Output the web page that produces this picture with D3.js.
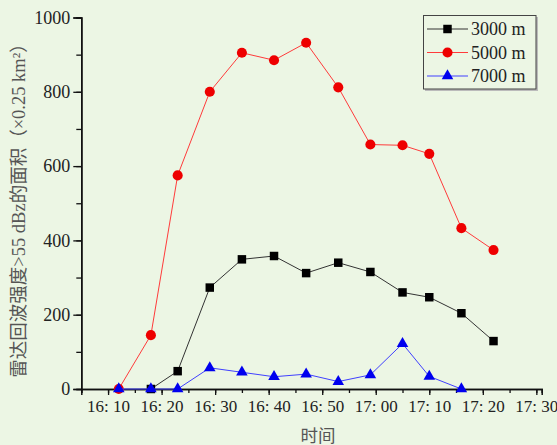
<!DOCTYPE html>
<html>
<head>
<meta charset="utf-8">
<script src="https://cdn.jsdelivr.net/npm/d3@7"></script>
<style>
  html, body { margin: 0; padding: 0; background: #ECF6E4; }
  svg { display: block; }
  text { font-family: "Liberation Serif", "Noto Sans CJK SC", serif; }
</style>
</head>
<body>
<svg id="chart" width="557" height="445"></svg>
<script>
// ---- data ----
const times = ["16:12","16:18","16:23","16:29","16:35","16:41","16:47","16:53","16:59","17:05","17:10","17:16","17:22"];
const s3000 = [null, 0, 48, 273, 349, 358, 312, 340, 315, 260, 247, 204, 129];
const s5000 = [0, 145, 575, 800, 905, 885, 932, 812, 658, 656, 633, 433, 374];
const s7000 = [0, 0, 0, 57, 45, 33, 40, 20, 38, 122, 34, 0, null];
const seriesNames = ["3000 m", "5000 m", "7000 m"];
const xTickLabels = ["16:10","16:20","16:30","16:40","16:50","17:00","17:10","17:20","17:30"];
const yTicks = [0, 200, 400, 600, 800, 1000];
const yLabel = "雷达回波强度>55 dBz的面积（×0.25 km²）";
const xLabel = "时间";

const toMin = t => { const [h, m] = t.split(":").map(Number); return (h - 16) * 60 + m; };
const fmt = m => { const h = 16 + Math.floor(m / 60), mm = m % 60; return h + ": " + String(mm).padStart(2, "0"); };

const svg = d3.select("#chart");
const x = d3.scaleLinear().domain([5, 91]).range([81.3, 541.7]);
const y = d3.scaleLinear().domain([0, 1000]).range([389, 17.5]);

const axisColor = "#111";
const tickText = "#222";
const xMajor = xTickLabels.map(toMin);

// x axis
const gx = svg.append("g").attr("transform", "translate(0,389)");
gx.call(d3.axisBottom(x).tickValues(d3.range(5, 91, 5)).tickSize(4).tickFormat(""));
gx.append("g").call(d3.axisBottom(x).tickValues(xMajor).tickSize(6).tickPadding(5).tickFormat(fmt));
gx.selectAll("path.domain").attr("stroke", axisColor).attr("stroke-width", 1.5);
gx.selectAll("line").attr("stroke", axisColor).attr("stroke-width", 1.3);
gx.selectAll("text").attr("font-size", 17).attr("fill", tickText).attr("font-family", "Liberation Serif");
gx.select("g").select("path.domain").remove();

// y axis
const gy = svg.append("g").attr("transform", "translate(81.3,0)");
gy.call(d3.axisLeft(y).tickValues(d3.range(0, 1001, 100)).tickSize(5).tickFormat(""));
gy.append("g").call(d3.axisLeft(y).tickValues(yTicks).tickSize(8).tickPadding(3).tickFormat(d3.format("d")));
gy.selectAll("path.domain").attr("stroke", axisColor).attr("stroke-width", 1.5);
gy.selectAll("line").attr("stroke", axisColor).attr("stroke-width", 1.3);
gy.selectAll("text").attr("font-size", 18).attr("fill", tickText).attr("font-family", "Liberation Serif");
gy.select("g").select("path.domain").remove();

// axis labels
svg.append("text")
  .attr("transform", "translate(25,206) rotate(-90)")
  .attr("text-anchor", "middle")
  .attr("font-size", 18.5)
  .attr("fill", "#555")
  .text(yLabel);
svg.append("text")
  .attr("x", 318).attr("y", 442)
  .attr("text-anchor", "middle")
  .attr("font-size", 17.5)
  .attr("fill", "#555")
  .attr("font-family", "Noto Sans CJK SC")
  .text(xLabel);

// series
const series = [
  { name: seriesNames[0], vals: s3000, line: "#333", fill: "#000", sym: d3.symbolSquare, size: 72 },
  { name: seriesNames[1], vals: s5000, line: "#FF3B3B", fill: "#EE0000", sym: d3.symbolCircle, size: 80 },
  { name: seriesNames[2], vals: s7000, line: "#4040FF", fill: "#0000EE", sym: d3.symbolTriangle, size: 58 }
];

series.forEach(s => {
  const pts = times.map((t, i) => ({ m: toMin(t), v: s.vals[i] })).filter(d => d.v !== null);
  svg.append("path").datum(pts)
    .attr("fill", "none").attr("stroke", s.line).attr("stroke-width", 1)
    .attr("d", d3.line().x(d => x(d.m)).y(d => y(d.v)));
  svg.append("g").selectAll("path").data(pts).join("path")
    .attr("transform", d => `translate(${x(d.m)},${y(d.v)})`)
    .attr("d", d3.symbol().type(s.sym).size(s.size))
    .attr("fill", s.fill);
});

// legend
const lg = svg.append("g");
lg.append("rect").attr("x", 425).attr("y", 17).attr("width", 113).attr("height", 74).attr("fill", "#bbb");
lg.append("rect").attr("x", 423.5).attr("y", 15.5).attr("width", 112.5).attr("height", 73.5)
  .attr("fill", "#ECF6E4").attr("stroke", "#444").attr("stroke-width", 1);
const rowY = [29, 52.5, 76];
series.forEach((s, i) => {
  lg.append("line").attr("x1", 427).attr("x2", 468).attr("y1", rowY[i]).attr("y2", rowY[i])
    .attr("stroke", s.line).attr("stroke-width", 1);
  lg.append("path").attr("transform", `translate(447.5,${rowY[i]})`)
    .attr("d", d3.symbol().type(s.sym).size(s.size)).attr("fill", s.fill);
  lg.append("text").attr("x", 471).attr("y", rowY[i] + 6).attr("font-size", 18)
    .attr("fill", "#222").text(s.name);
});
</script>
</body>
</html>
